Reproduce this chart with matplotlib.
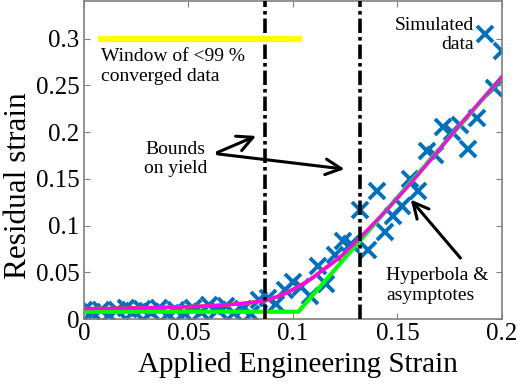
import matplotlib.pyplot as plt

plt.rcParams['font.family'] = ['Liberation Serif', 'DejaVu Serif']

# simulated data (residual strain vs applied strain)
strain = [0.000, 0.004, 0.008, 0.012, 0.016, 0.020, 0.024, 0.028, 0.032, 0.036,
          0.040, 0.044, 0.048, 0.052, 0.056, 0.060, 0.064, 0.068, 0.072, 0.076,
          0.080, 0.084, 0.088, 0.092, 0.096, 0.100, 0.104, 0.108, 0.112, 0.116,
          0.120, 0.124, 0.128, 0.132, 0.136, 0.140, 0.144, 0.148, 0.152, 0.156,
          0.160, 0.164, 0.168, 0.172, 0.176, 0.180, 0.184, 0.188, 0.192, 0.196,
          0.200]
residual = [0.010, 0.007, 0.010, 0.004, 0.010, 0.012, 0.009, 0.011, 0.008, 0.012,
            0.005, 0.010, 0.006, 0.012, 0.008, 0.015, 0.010, 0.014, 0.006, 0.011,
            0.005, 0.020, 0.023, 0.016, 0.031, 0.040, 0.034, 0.025, 0.057, 0.037,
            0.068, 0.083, 0.080, 0.117, 0.074, 0.137, 0.093, 0.110, 0.121, 0.150,
            0.137, 0.180, 0.175, 0.205, 0.200, 0.208, 0.182, 0.215, 0.305, 0.247,
            0.287]

# hyperbola fit
hyp_x = [0.0, 0.02, 0.04, 0.05, 0.06, 0.07, 0.076, 0.082, 0.087, 0.092, 0.097,
         0.102, 0.106, 0.110, 0.114, 0.119, 0.124, 0.130, 0.137, 0.145, 0.155,
         0.165, 0.18, 0.2]
hyp_y = [0.011, 0.0115, 0.0125, 0.0132, 0.014, 0.0155, 0.0167, 0.0182, 0.020,
         0.0235, 0.028, 0.034, 0.039, 0.045, 0.052, 0.060, 0.069, 0.082, 0.098,
         0.117, 0.142, 0.168, 0.208, 0.259]

# asymptotes
asym_x = [0.0, 0.1026, 0.2]
asym_y = [0.0078, 0.0078, 0.259]

# yield bounds and convergence window
bounds = [0.0866, 0.132]
window_x = [0.008, 0.103]
window_y = 0.3

fig = plt.figure(figsize=(5.18, 3.9), dpi=100)
ax = fig.add_axes([0.162, 0.182, 0.807, 0.815])

ax.plot(strain, residual, 'x', ms=12, mew=2.8, color='#0072BD', zorder=2)
ax.plot(hyp_x, hyp_y, color='#D95319', lw=2.8, zorder=3)
ax.plot(asym_x, asym_y, color='#00FF00', lw=3, zorder=4)
ax.plot(hyp_x, hyp_y, color='#FF00FF', lw=2.2, zorder=5)
for b in bounds:
    ax.axvline(b, color='black', lw=2.6, ls=(0, (4, 1.1, 1, 1.1)), zorder=6)
ax.plot(window_x, [window_y, window_y], color='#FFFF00', lw=4.5, zorder=6)

tsize = 14
ax.text(0.008, 0.270, 'Window of <99 %\nconverged data', fontsize=tsize,
        ha='left', va='center')
ax.text(0.1866, 0.304, 'Simulated\ndata', fontsize=tsize, ha='right', va='center')
ax.text(0.044, 0.171, 'Bounds\non yield', fontsize=tsize, ha='center', va='center')
ax.text(0.1445, 0.036, 'Hyperbola &\nasymptotes', fontsize=tsize, ha='left',
        va='center')

arrow = dict(arrowstyle='->', lw=2.2, color='black', mutation_scale=28)
ax.annotate('', xy=(0.0836, 0.197), xytext=(0.0626, 0.177), arrowprops=arrow)
ax.annotate('', xy=(0.126, 0.160), xytext=(0.0626, 0.177), arrowprops=arrow)
ax.annotate('', xy=(0.1555, 0.130), xytext=(0.181, 0.063), arrowprops=arrow)

ax.set_xlim(0, 0.2)
ax.set_ylim(0, 0.34)
ax.set_xticks([0, 0.05, 0.1, 0.15, 0.2])
ax.set_xticklabels(['0', '0.05', '0.1', '0.15', '0.2'])
ax.set_yticks([0, 0.05, 0.1, 0.15, 0.2, 0.25, 0.3])
ax.set_yticklabels(['0', '0.05', '0.1', '0.15', '0.2', '0.25', '0.3'])
ax.tick_params(direction='in', top=True, right=True, length=4, color='#808080',
               labelsize=18, pad=3)
for s in ax.spines.values():
    s.set_color('#808080')
    s.set_linewidth(1.2)
ax.set_xlabel('Applied Engineering Strain', fontsize=21)
ax.set_ylabel('Residual strain', fontsize=22.5)
ax.xaxis.set_label_coords(0.512, -0.105)
ax.yaxis.set_label_coords(-0.122, 0.42)

fig.savefig('out.png', dpi=100)
